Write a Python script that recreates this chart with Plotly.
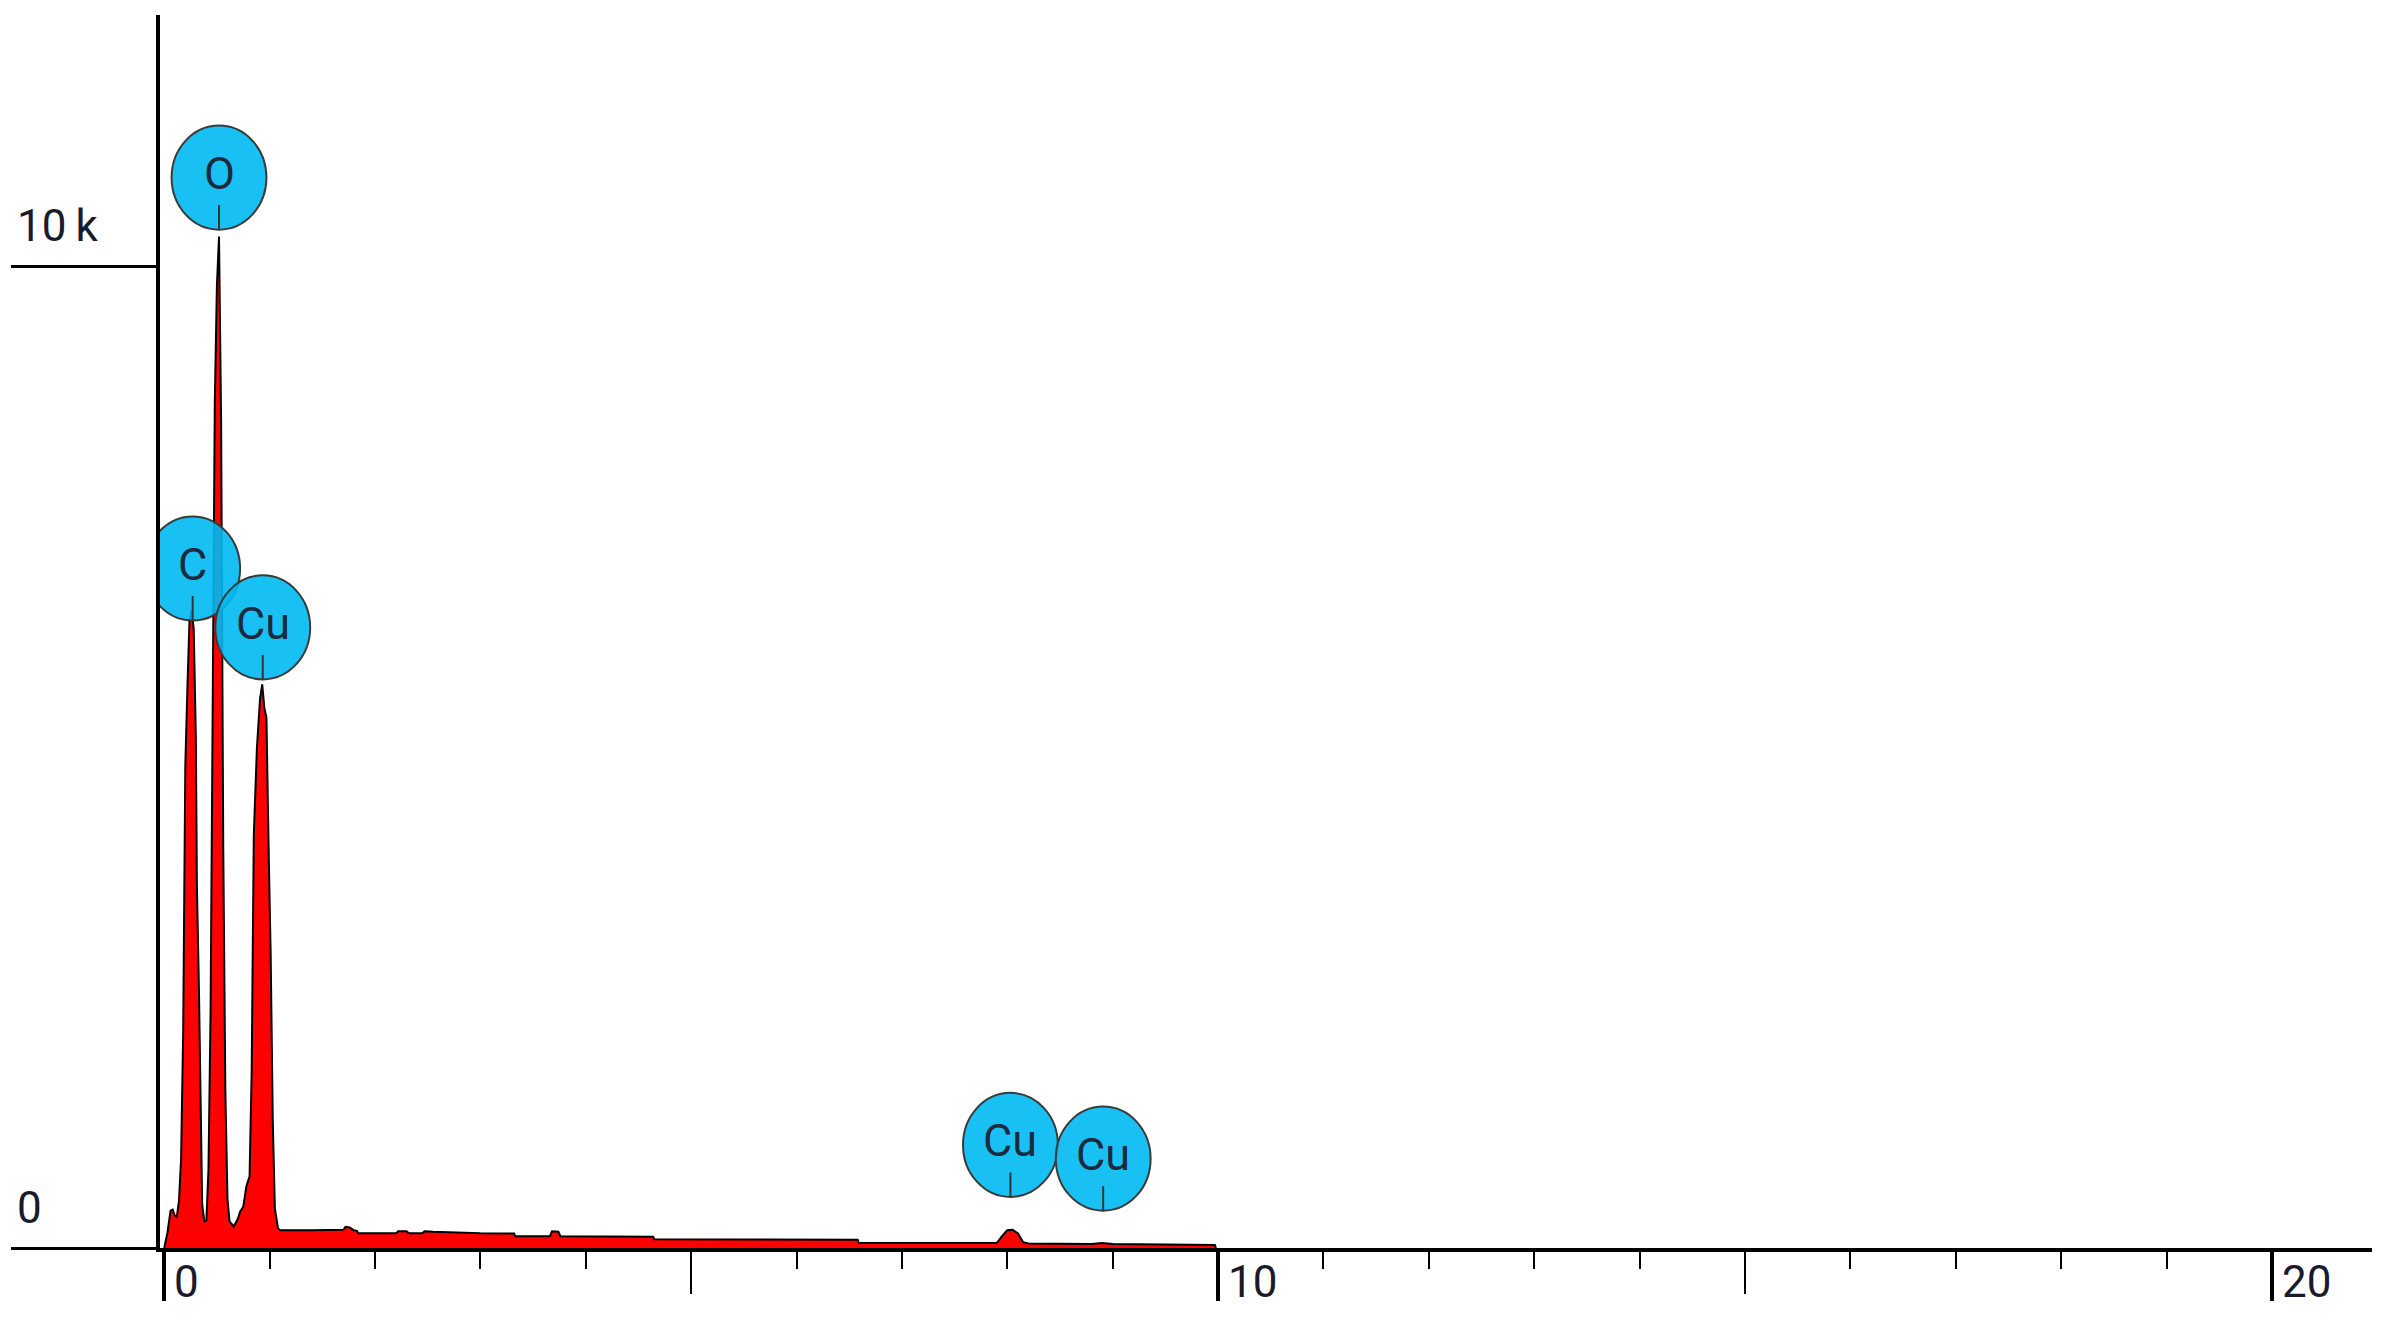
import plotly.graph_objects as go

# EDS spectrum (energy in keV, counts)
energy_kev = [0.00, 0.03, 0.06, 0.08, 0.10, 0.12, 0.14, 0.16, 0.18, 0.20,
              0.22, 0.24, 0.26, 0.28, 0.30, 0.31, 0.33, 0.35, 0.36, 0.38,
              0.40, 0.42, 0.44, 0.46, 0.48, 0.50, 0.52, 0.54, 0.56, 0.58,
              0.60, 0.62, 0.66, 0.70, 0.72, 0.75, 0.78, 0.81, 0.83, 0.85,
              0.88, 0.91, 0.93, 0.95, 0.97, 0.99, 1.01, 1.03, 1.05, 1.08,
              1.10, 1.40, 1.70, 1.72, 1.76, 1.80, 1.83, 1.84, 2.20, 2.22,
              2.30, 2.32, 2.45, 2.47, 2.55, 3.00, 3.32, 3.33, 3.66, 3.68,
              3.74, 3.76, 4.20, 4.64, 4.65, 5.50, 6.58, 6.59, 7.20, 7.90,
              7.95, 8.00, 8.05, 8.10, 8.15, 8.20, 8.80, 8.90, 9.00, 9.50,
              9.97, 9.98]
counts = [0, 150, 380, 390, 330, 320, 480, 900, 2200, 4900,
          5700, 6400, 6500, 6300, 5200, 3700, 2600, 1200, 450, 270,
          280, 800, 2400, 5500, 8600, 9800, 10300, 8400, 4100, 1600,
          500, 270, 220, 300, 370, 420, 630, 730, 1800, 4200,
          5100, 5600, 5740, 5500, 5400, 4100, 3000, 1300, 400, 200,
          180, 180, 185, 215, 210, 180, 175, 150, 150, 170,
          170, 150, 150, 170, 165, 150, 148, 120, 120, 170,
          165, 120, 118, 115, 90, 88, 85, 50, 48, 50,
          120, 180, 185, 150, 60, 45, 40, 50, 40, 35,
          30, 0]

# element markers
peak_labels = ["C", "O", "Cu", "Cu", "Cu"]
peak_energy = [0.27, 0.52, 0.935, 8.03, 8.91]
label_height = [6920, 10900, 6320, 1050, 910]

# axis ticks
y_tickvals = [0, 10000]
y_ticktext = ["0", "10\u2009k"]
x_major = [0, 10, 20]
x_ticktext = ["0", "10", "20"]

x_range = [-0.04, 20.95]
rx, ry = 0.45, 530  # circle half-size in data units

fig = go.Figure()

# red spectrum with black outline
fig.add_trace(go.Scatter(x=energy_kev, y=counts, mode="lines",
                         line=dict(color="black", width=2),
                         fill="tozeroy", fillcolor="#ff0000",
                         hoverinfo="skip", showlegend=False))
# anchor trace for the overlay axis carrying the long ticks
fig.add_trace(go.Scatter(x=peak_energy, y=label_height, mode="markers",
                         marker=dict(opacity=0), xaxis="x2",
                         hoverinfo="skip", showlegend=False))

shapes = []
for e, h in zip(peak_energy, label_height):
    shapes.append(dict(type="circle", xref="x", yref="y",
                       x0=e - rx, x1=e + rx, y0=h - ry, y1=h + ry,
                       fillcolor="rgba(0,185,242,0.9)",
                       line=dict(color="#3a3a3a", width=2), layer="above"))
for e, h in zip(peak_energy, label_height):
    shapes.append(dict(type="line", xref="x", yref="y",
                       x0=e, x1=e, y0=h - ry, y1=h - ry + 250,
                       line=dict(color="#333333", width=2), layer="above"))

annotations = []
for e, h, t in zip(peak_energy, label_height, peak_labels):
    annotations.append(dict(x=e, y=h, xref="x", yref="y", text=t,
                            showarrow=False, yshift=4,
                            font=dict(family="Roboto", size=45, color="#1c2a3e")))
for v, t in zip(y_tickvals, y_ticktext):
    annotations.append(dict(x=0, xref="paper", xshift=-145, xanchor="left",
                            y=v, yref="y", yanchor="bottom", yshift=12,
                            text=t, showarrow=False,
                            font=dict(family="Roboto", size=44, color="#1a1a2a")))
for v, t in zip(x_major, x_ticktext):
    annotations.append(dict(x=v, xref="x", xanchor="left", xshift=8,
                            y=0, yref="paper", yanchor="top", yshift=-6,
                            text=t, showarrow=False,
                            font=dict(family="Roboto", size=44, color="#1a1a2a")))

fig.update_layout(
    width=2387, height=1323,
    margin=dict(l=152, r=23, t=7, b=83, pad=0),
    paper_bgcolor="white", plot_bgcolor="white",
    showlegend=False,
    shapes=shapes, annotations=annotations,
    xaxis=dict(range=x_range, showline=True, linecolor="black", linewidth=4,
               ticks="outside", tick0=0, dtick=5, ticklen=42, tickwidth=2,
               tickcolor="black", showticklabels=False, showgrid=False,
               zeroline=False,
               minor=dict(ticks="outside", dtick=1, ticklen=17, tickwidth=2,
                          tickcolor="black", showgrid=False)),
    xaxis2=dict(range=x_range, overlaying="x", anchor="y", side="bottom",
                tickmode="array", tickvals=x_major, ticks="outside",
                ticklen=52, tickwidth=4, tickcolor="black",
                showline=False, showgrid=False, zeroline=False,
                showticklabels=False),
    yaxis=dict(range=[0, 12556], showline=True, linecolor="black", linewidth=4,
               tickmode="array", tickvals=y_tickvals, ticks="outside",
               ticklen=145, tickwidth=3, tickcolor="black",
               showticklabels=False, showgrid=False, zeroline=False),
)

fig.write_html("out.html")
